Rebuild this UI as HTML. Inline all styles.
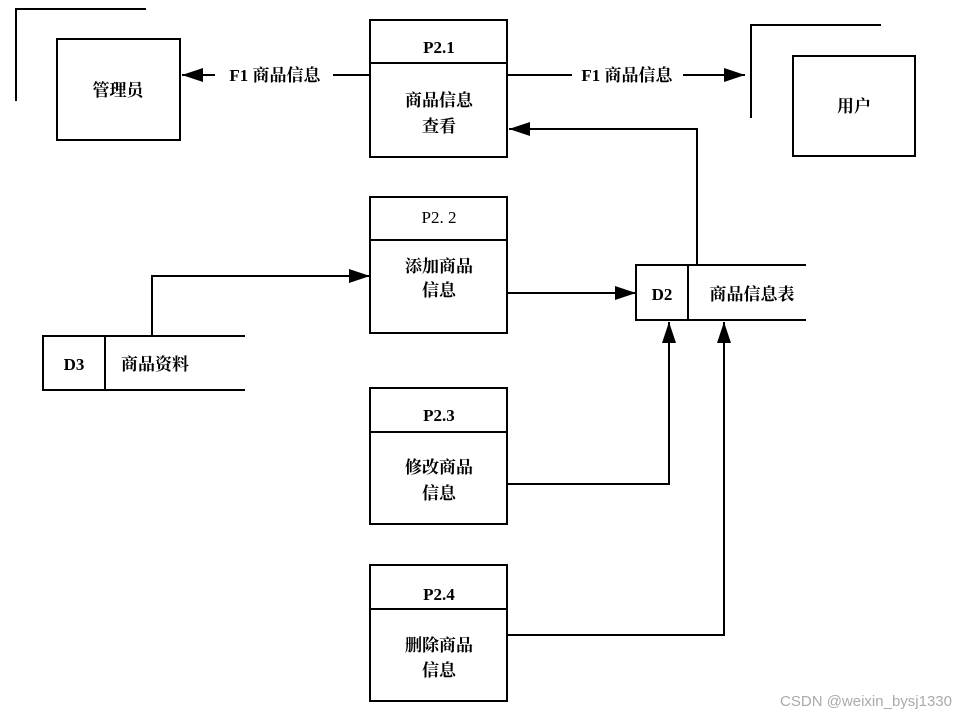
<!DOCTYPE html>
<html><head><meta charset="utf-8"><style>
body{margin:0;background:#fff;}
svg text{font-family:"Liberation Serif","Noto Serif CJK SC",serif;font-weight:bold;font-size:17px;fill:#000;}
</style></head><body>
<svg width="969" height="720" viewBox="0 0 969 720" xmlns="http://www.w3.org/2000/svg">
<defs><marker id="a" markerWidth="10" markerHeight="10" refX="9" refY="5" orient="auto" markerUnits="userSpaceOnUse"><path d="M0,0 L10,5 L0,10 z" fill="#000" transform="scale(1)"/></marker>
<marker id="b" markerWidth="22" markerHeight="14" refX="21" refY="7" orient="auto" markerUnits="userSpaceOnUse"><path d="M0,0 L21,7 L0,14 z" fill="#000"/></marker></defs>
<g stroke="#000" stroke-width="2" fill="none">
<path d="M16,101 V9 H146"/>
<rect x="57" y="39" width="123" height="101"/>
<path d="M751,118 V25 H881"/>
<rect x="793" y="56" width="122" height="100"/>
<rect x="370" y="20" width="137" height="137"/><line x1="370" y1="63" x2="507" y2="63"/>
<rect x="370" y="197" width="137" height="136"/><line x1="370" y1="240" x2="507" y2="240"/>
<rect x="370" y="388" width="137" height="136"/><line x1="370" y1="432" x2="507" y2="432"/>
<rect x="370" y="565" width="137" height="136"/><line x1="370" y1="609" x2="507" y2="609"/>
<path d="M806,265 H636 V320 H806 M688,265 V320"/>
<path d="M245,336 H43 V390 H245 M105,336 V390"/>
<path d="M370,75 H333 M215,75 H182" marker-end="url(#b)"/>
<path d="M507,75 H570 M683,75 H745" marker-end="url(#b)"/>
<path d="M697,265 V129 H509" marker-end="url(#b)"/>
<path d="M152,336 V276 H370" marker-end="url(#b)"/>
<path d="M507,293 H636" marker-end="url(#b)"/>
<path d="M507,484 H669 V322" marker-end="url(#b)"/>
<path d="M507,635 H724 V322" marker-end="url(#b)"/>
</g>
<line x1="333" y1="75" x2="370" y2="75" stroke="#000" stroke-width="2"/>
<line x1="507" y1="75" x2="572" y2="75" stroke="#000" stroke-width="2"/>
<text x="118" y="96" text-anchor="middle">管理员</text>
<text x="854" y="112" text-anchor="middle">用户</text>
<text x="275" y="81" text-anchor="middle">F1 商品信息</text>
<text x="627" y="81" text-anchor="middle">F1 商品信息</text>
<text x="439" y="53" text-anchor="middle">P2.1</text>
<text x="439" y="106" text-anchor="middle">商品信息</text>
<text x="439" y="132" text-anchor="middle">查看</text>
<text x="439" y="223" text-anchor="middle" style="font-weight:normal">P2. 2</text>
<text x="439" y="272" text-anchor="middle">添加商品</text>
<text x="439" y="296" text-anchor="middle">信息</text>
<text x="439" y="421" text-anchor="middle">P2.3</text>
<text x="439" y="473" text-anchor="middle">修改商品</text>
<text x="439" y="499" text-anchor="middle">信息</text>
<text x="439" y="600" text-anchor="middle">P2.4</text>
<text x="439" y="651" text-anchor="middle">删除商品</text>
<text x="439" y="676" text-anchor="middle">信息</text>
<text x="662" y="300" text-anchor="middle">D2</text>
<text x="752" y="300" text-anchor="middle">商品信息表</text>
<text x="74" y="370" text-anchor="middle" x2="0">D3</text>
<text x="155" y="370" text-anchor="middle">商品资料</text>
<text x="952" y="706" text-anchor="end" style="font-family:'Liberation Sans',sans-serif;font-weight:normal;font-size:15px;fill:#aaa">CSDN @weixin_bysj1330</text>
</svg>
</body></html>
